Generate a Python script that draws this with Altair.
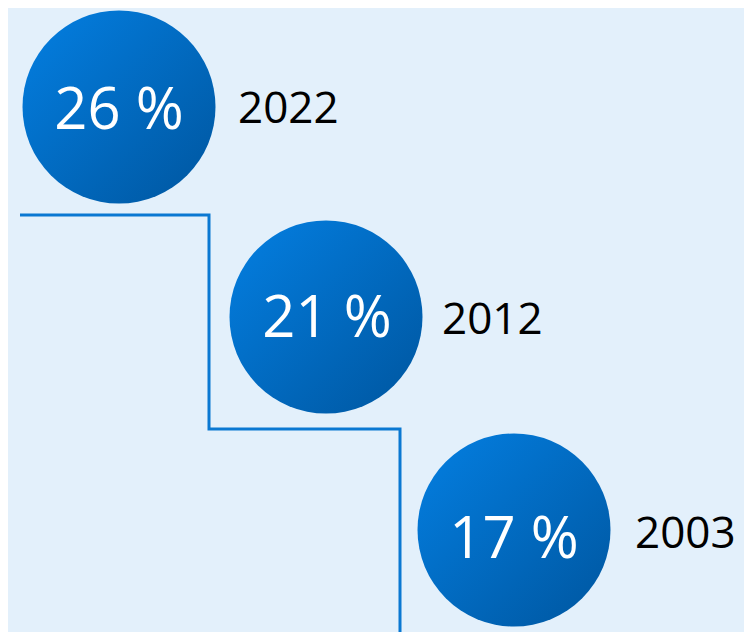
import altair as alt
import pandas as pd

# ---- data ----
percents = [26, 21, 17]
years = ["2022", "2012", "2003"]

# ---- layout (reference pixel coordinates) ----
circle_cx = [119, 326, 514]
circle_cy = [107, 317, 530]
pct_baseline = [129, 337, 558]
pct_cx = [119, 327, 514]
year_x = [238, 442, 635]
year_baseline = [123, 334, 548]
step_x = [20, 209, 209, 400, 400]
step_y = [215, 215, 429, 429, 640]

W, H = 736, 624
xs = alt.Scale(domain=[8, 8 + W], range=[0, W])
ys = alt.Scale(domain=[8, 8 + H], range=[0, H])

circles = pd.DataFrame({
    "cx": circle_cx, "cy": circle_cy,
    "label": [f"{p} %" for p in percents],
    "px": pct_cx, "py": pct_baseline,
    "year": years, "yx": year_x, "yy": year_baseline,
})
steps = pd.DataFrame({"x": step_x, "y": step_y, "o": list(range(len(step_x)))})

noaxis = dict(axis=None)

line = alt.Chart(steps).mark_line(color="#0A78D2", strokeWidth=3, clip=True, interpolate="linear").encode(
    x=alt.X("x:Q", scale=xs, **noaxis),
    y=alt.Y("y:Q", scale=ys, **noaxis),
    order="o:Q",
)

grad = alt.Gradient(
    gradient="linear",
    stops=[alt.GradientStop(color="#0379D8", offset=0),
           alt.GradientStop(color="#005CA9", offset=1)],
    x1=0.15, y1=0.15, x2=0.85, y2=0.85,
)

dots = alt.Chart(circles).mark_point(
    shape="circle", filled=True, size=193 * 193, color=grad, opacity=1, strokeWidth=0
).encode(
    x=alt.X("cx:Q", scale=xs, **noaxis),
    y=alt.Y("cy:Q", scale=ys, **noaxis),
)

pct_text = alt.Chart(circles).mark_text(
    font="Open Sans", fontSize=58, fontWeight="normal", color="white",
    align="center", baseline="alphabetic"
).encode(
    x=alt.X("px:Q", scale=xs, **noaxis),
    y=alt.Y("py:Q", scale=ys, **noaxis),
    text="label:N",
)

year_text = alt.Chart(circles).mark_text(
    font="Open Sans", fontSize=44, color="black",
    align="left", baseline="alphabetic"
).encode(
    x=alt.X("yx:Q", scale=xs, **noaxis),
    y=alt.Y("yy:Q", scale=ys, **noaxis),
    text="year:N",
)

chart = alt.layer(line, dots, pct_text, year_text).properties(
    width=W, height=H, background="#E3F0FB", padding=0,
    autosize=alt.AutoSizeParams(type="none"),
).configure_view(stroke=None, fill="#E3F0FB")

chart.save("out.html", embed_options={"renderer": "svg", "actions": False})
